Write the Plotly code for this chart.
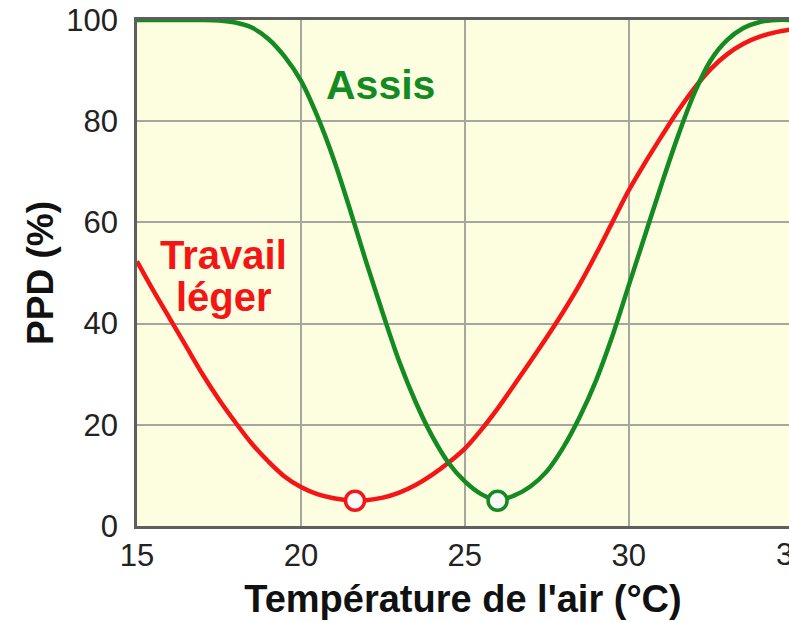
import plotly.graph_objects as go

# Température de l'air (°C)
temp = [15, 15.5, 16, 16.5, 17, 17.5, 18, 18.5, 19, 19.5, 20, 20.5, 21, 21.5, 22, 22.5,
        23, 23.5, 24, 24.5, 25, 25.5, 26, 26.5, 27, 27.5, 28, 28.5, 29, 29.5, 30, 30.5,
        31, 31.5, 32, 32.5, 33, 33.5, 34, 34.5, 35]

# PPD (%) - Assis
ppd_assis = [100, 100, 100, 100, 100, 99.9, 99.5, 98.5, 96.3, 92.8, 88, 81, 72.5, 62.5, 52, 42,
             32.5, 24.5, 17.8, 12.5, 8.8, 6.3, 5.1, 6.0, 7.8, 10.8, 15.5, 21.5, 28.7, 37.5, 47.5, 57.5,
             67.5, 77, 85.5, 92, 96, 98.4, 99.6, 100, 100]

# PPD (%) - Travail léger
ppd_travail = [52.3, 46.5, 41, 35.5, 30, 25, 20.5, 16.3, 12.8, 9.8, 7.7, 6.3, 5.5, 5.1, 5.1, 5.6,
               6.6, 8.1, 10.1, 12.5, 15.3, 19, 23.2, 27.8, 32.5, 37.3, 42.3, 47.7, 53.7, 60, 66.3, 71.8,
               77, 82, 86.5, 90.3, 93.2, 95.3, 96.7, 97.6, 98.2]

# minima (optimum)
min_travail = (21.65, 5)
min_assis = (26.0, 5)

x_ticks = [15, 20, 25, 30]
y_ticks = [0, 20, 40, 60, 80, 100]

GREEN = "#138a22"
RED = "#f41616"
FONT = "Liberation Sans, Arial, sans-serif"

W, H = 789, 622
ML, MT, MB, MR = 137, 20, 96, 0
px_per_deg = 32.78
x_end = 15 + (W - ML - MR) / px_per_deg

fig = go.Figure()
fig.add_trace(go.Scatter(x=temp, y=ppd_travail, mode="lines",
                         line=dict(color=RED, width=4.5, shape="spline", smoothing=1.0),
                         hoverinfo="skip", showlegend=False))
fig.add_trace(go.Scatter(x=temp, y=ppd_assis, mode="lines",
                         line=dict(color=GREEN, width=4.5, shape="spline", smoothing=1.0),
                         hoverinfo="skip", showlegend=False))
fig.add_trace(go.Scatter(x=[min_travail[0]], y=[min_travail[1]], mode="markers",
                         marker=dict(size=19, color="#f8f8f8", line=dict(color=RED, width=3.5)),
                         cliponaxis=False, showlegend=False, hoverinfo="skip"))
fig.add_trace(go.Scatter(x=[min_assis[0]], y=[min_assis[1]], mode="markers",
                         marker=dict(size=19, color="#f8f8f8", line=dict(color=GREEN, width=3.5)),
                         cliponaxis=False, showlegend=False, hoverinfo="skip"))

fig.add_annotation(x=22.44, y=87.2, xref="x", yref="y", text="<b>Assis</b>", showarrow=False,
                   font=dict(family=FONT, size=41, color=GREEN), xanchor="center", yanchor="middle")
fig.add_annotation(x=17.64, y=53.6, xref="x", yref="y", text="<b>Travail</b>", showarrow=False,
                   font=dict(family=FONT, size=40, color=RED), xanchor="center", yanchor="middle")
fig.add_annotation(x=17.64, y=45.2, xref="x", yref="y", text="<b>léger</b>", showarrow=False,
                   font=dict(family=FONT, size=40, color=RED), xanchor="center", yanchor="middle")
# clipped "35" tick label at the right edge (as in the reference)
fig.add_annotation(x=(35 - 15) / (x_end - 15), y=0, xref="paper", yref="paper", text="35",
                   showarrow=False, font=dict(family=FONT, size=31, color="#222"),
                   xanchor="center", yanchor="top", yshift=-9)

fig.update_layout(
    width=W, height=H,
    margin=dict(l=ML, r=MR, t=MT, b=MB, pad=0, autoexpand=False),
    paper_bgcolor="white", plot_bgcolor="#fdfde0",
    font=dict(family=FONT, color="#222"),
    xaxis=dict(range=[15, x_end], tickvals=x_ticks, ticktext=[str(v) for v in x_ticks],
               showgrid=True, gridcolor="#a6a6a0", gridwidth=2, automargin=False,
               showline=True, linecolor="#5e5e5e", linewidth=2.5, mirror=True,
               ticks="", ticklabelstandoff=0, zeroline=False,
               tickfont=dict(family=FONT, size=31, color="#222"),
               title=dict(text="<b>Température de l'air (°C)</b>", standoff=14,
                          font=dict(family=FONT, size=38, color="#111"))),
    yaxis=dict(range=[0, 100], tickvals=y_ticks, ticktext=[str(v) for v in y_ticks],
               showgrid=True, gridcolor="#a6a6a0", gridwidth=2, automargin=False,
               showline=True, linecolor="#5e5e5e", linewidth=2.5, mirror=False,
               ticks="", ticklabelstandoff=10, zeroline=False,
               tickfont=dict(family=FONT, size=31, color="#222"),
               title=dict(text="<b>PPD (%)</b>", standoff=2,
                          font=dict(family=FONT, size=37, color="#111"))),
)

fig.write_html("out.html", config={"displayModeBar": False},
               post_script="document.body.style.margin='0';document.body.style.overflow='hidden';")
